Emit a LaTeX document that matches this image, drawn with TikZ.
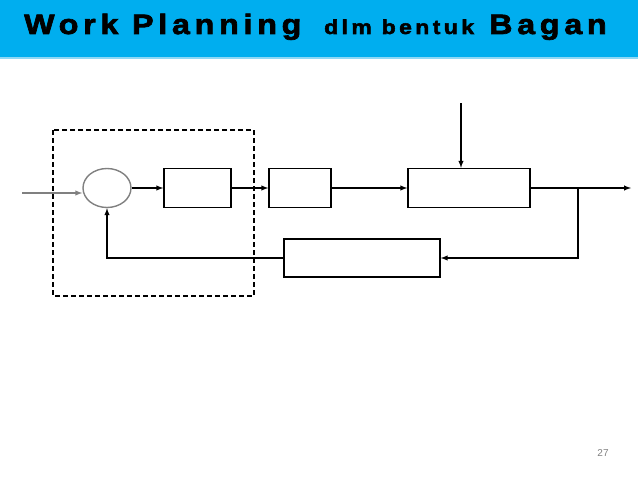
\documentclass[tikz,border=0pt]{standalone}
\usepackage{fontspec}
\setmainfont{Liberation Sans}
\newfontfamily\titlefont[LetterSpace=17, FakeStretch=1.15, FakeBold=2.5]{Liberation Sans Bold}
\usetikzlibrary{shapes.geometric}
\definecolor{titleblue}{HTML}{00AEEF}
\definecolor{titleedge}{HTML}{8FD8F5}
\tikzset{
  blk/.style={draw, line width=1.4pt, minimum height=39pt, inner sep=0pt},
  sumpt/.style={ellipse, draw=gray, line width=1.4pt, minimum width=48pt, minimum height=39pt, inner sep=0pt},
  sig/.style={->, line width=1.4pt},
  bigtitle/.style={anchor=base west, inner sep=0pt, font=\titlefont\fontsize{28}{28}\selectfont},
  smalltitle/.style={anchor=base west, inner sep=0pt, font=\titlefont\fontsize{20}{20}\selectfont}
}
\begin{document}
\begin{tikzpicture}[x=1pt, y=-1pt, >=latex]
  \useasboundingbox (0,0) rectangle (638,479);

  % title bar
  \fill[titleblue] (0,0) rectangle (638,57);
  \fill[titleedge] (0,57) rectangle (638,59);
  \node (t1) at (24,34) [bigtitle] {Work Planning};
  \node (t2) at (324,34) [smalltitle] {dlm bentuk};
  \node (t3) at (489,34) [bigtitle] {Bagan};

  % dashed controller region
  \draw[dash pattern=on 5pt off 3pt, line width=1.4pt] (53,130) rectangle (254,296);

  \node (sum) at (107,188) [sumpt] {};
  \node (b1) at (197.5,188) [blk, minimum width=67pt] {};
  \node (b2) at (300,188) [blk, minimum width=62pt] {};
  \node (plant) at (469,188) [blk, minimum width=122pt] {};
  \node (fb) at (362,258) [blk, minimum width=156pt, minimum height=38pt] {};

  \coordinate (in) at (22,193);
  \coordinate (dist) at (461,103);
  \coordinate (split) at (578,188);
  \coordinate (out) at (631,188);

  \draw [sig, gray] (in) -- (in -| sum.west);
  \draw [sig] (sum) -- (b1);
  \draw [sig] (b1) -- (b2);
  \draw [sig] (b2) -- (plant);
  \draw [sig] (dist) -- (dist |- plant.north);
  \draw [sig] (plant) -- (out);
  \draw [sig] (split) |- (fb.east);
  \draw [sig] (fb.west) -| (sum.south);

  \node (page) at (603,453) [text=gray, font=\fontsize{10}{10}\selectfont] {27};
\end{tikzpicture}
\end{document}
